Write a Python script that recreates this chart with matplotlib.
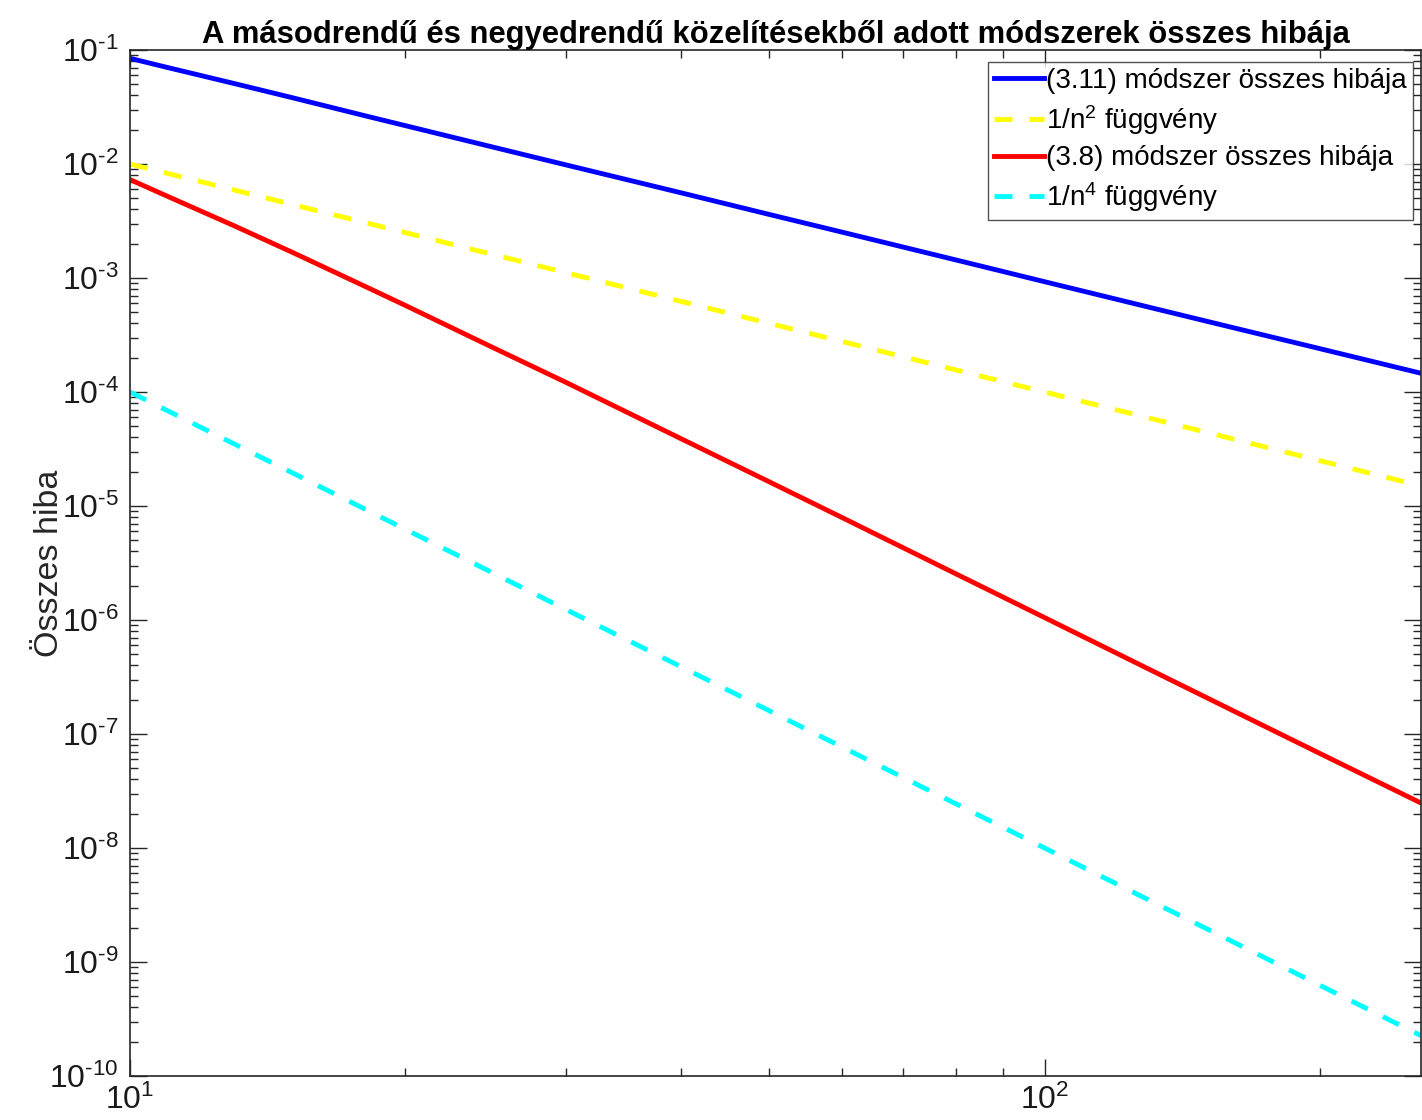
import matplotlib
matplotlib.use('Agg')
import matplotlib.pyplot as plt
import numpy as np
from matplotlib.ticker import LogLocator, NullFormatter, FuncFormatter

plt.rcParams['font.family'] = ['Liberation Sans', 'DejaVu Sans']
plt.rcParams['mathtext.fontset'] = 'custom'
plt.rcParams['mathtext.rm'] = 'Liberation Sans'
plt.rcParams['mathtext.default'] = 'regular'
plt.rcParams['axes.unicode_minus'] = False

# Adatok
n = [10, 11, 13, 15, 18, 20, 25, 30, 40, 50, 60, 80, 100, 130, 160, 200, 258]
hiba_311 = [0.0845, 0.0701, 0.0508, 0.0384, 0.0267, 0.0217, 0.0140, 0.00980,
            0.00560, 0.00361, 0.00253, 0.00144, 0.000928, 0.000555, 0.000370,
            0.000240, 0.000146]
n2 = [0.01, 0.00826, 0.00592, 0.00444, 0.00309, 0.0025, 0.0016, 0.00111,
      0.000625, 0.0004, 0.000278, 0.000156, 0.0001, 5.92e-5, 3.91e-5,
      2.5e-5, 1.50e-5]
hiba_38 = [7.3e-3, 5.19e-3, 2.87e-3, 1.70e-3, 8.57e-4, 5.75e-4, 2.43e-4,
           1.21e-4, 3.91e-5, 1.63e-5, 7.95e-6, 2.54e-6, 1.05e-6, 3.71e-7,
           1.63e-7, 6.75e-8, 2.48e-8]
n4 = [1e-4, 6.83e-5, 3.50e-5, 1.98e-5, 9.53e-6, 6.25e-6, 2.56e-6, 1.23e-6,
      3.91e-7, 1.6e-7, 7.72e-8, 2.44e-8, 1e-8, 3.50e-9, 1.53e-9, 6.25e-10,
      2.26e-10]


def hatvany(v, pos):
    k = int(round(np.log10(v)))
    kitevo = ('\u2010%d' % -k) if k < 0 else '%d' % k
    return '10$^{%s}$' % kitevo


fig = plt.figure(figsize=(14.22, 11.2), dpi=100)
ax = fig.add_axes([130/1422, 1 - 1076/1120, 1291/1422, 1026/1120])

ax.loglog(n, hiba_311, color='#0000ff', lw=3.5, label='(3.11) módszer összes hibája')
ax.loglog(n, n2, color='#ffff00', lw=3.5, dashes=(3.7, 3.5), label='1/n$^{2}$ függvény')
ax.loglog(n, hiba_38, color='#ff0000', lw=3.5, label='(3.8) módszer összes hibája')
ax.loglog(n, n4, color='#00ffff', lw=3.5, dashes=(3.7, 3.5), label='1/n$^{4}$ függvény')

ax.set_xlim(10, 258)
ax.set_ylim(1e-10, 1e-1)

ax.yaxis.set_major_locator(LogLocator(base=10, numticks=20))
ax.yaxis.set_minor_locator(LogLocator(base=10, subs=range(2, 10), numticks=20))
ax.yaxis.set_major_formatter(FuncFormatter(hatvany))
ax.xaxis.set_major_formatter(FuncFormatter(hatvany))
ax.yaxis.set_minor_formatter(NullFormatter())
ax.xaxis.set_minor_formatter(NullFormatter())

for s in ax.spines.values():
    s.set_color('#262626')
    s.set_linewidth(1.2)
ax.tick_params(which='both', direction='in', top=True, right=True, colors='#262626',
               labelcolor='#1a1a1a', labelsize=23)
ax.tick_params(which='major', length=12, width=1)
ax.tick_params(which='minor', length=6, width=1)
ax.tick_params(axis='x', pad=6)
ax.tick_params(axis='y', pad=8)

ax.set_title('A másodrendű és negyedrendű közelítésekből adott módszerek összes hibája',
             fontsize=22.3, fontweight='bold', pad=2)
ax.set_ylabel('Összes hiba', fontsize=24.5, color='#262626')
ax.yaxis.set_label_coords(-0.050, 0.5)

ax.legend(loc='upper right', fontsize=20, frameon=True, fancybox=False,
          edgecolor='#262626', handlelength=1.8, handletextpad=0.1,
          borderpad=0.2, labelspacing=0.32, borderaxespad=0.0,
          bbox_to_anchor=(0.9935, 0.988))

fig.savefig('out.png', dpi=100)
